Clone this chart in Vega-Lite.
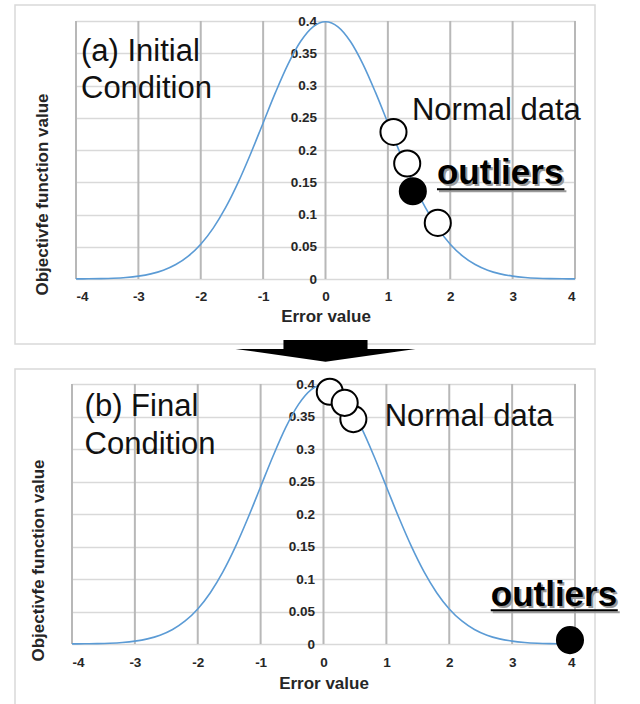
{
  "$schema": "https://vega.github.io/schema/vega-lite/v6.json",
  "background": "white",
  "padding": {"left": 14, "top": 4, "right": 0, "bottom": 0},
  "spacing": 25,
  "bounds": "flush",
  "config": {
    "font": "Liberation Sans",
    "view": {"stroke": "#d9d9d9", "strokeWidth": 1.5},
    "axis": {
      "labelFont": "Liberation Sans", "titleFont": "Liberation Sans",
      "labelFontWeight": "bold", "titleFontWeight": "bold",
      "labelColor": "#262626", "titleColor": "#262626",
      "gridColor": "#d9d9d9", "gridWidth": 1.5,
      "domain": false, "ticks": false, "labelFontSize": 13.5, "titleFontSize": 17
    }
  },
  "datasets": {
    "curve": [
      {"x": -4.0, "y": 0.00013}, {"x": -3.8, "y": 0.00029}, {"x": -3.6, "y": 0.00061}, {"x": -3.4, "y": 0.00123},
      {"x": -3.2, "y": 0.00238}, {"x": -3.0, "y": 0.00443}, {"x": -2.8, "y": 0.00792}, {"x": -2.6, "y": 0.01358},
      {"x": -2.4, "y": 0.02239}, {"x": -2.2, "y": 0.03547}, {"x": -2.0, "y": 0.05399}, {"x": -1.8, "y": 0.07895},
      {"x": -1.6, "y": 0.11092}, {"x": -1.4, "y": 0.14973}, {"x": -1.2, "y": 0.19419}, {"x": -1.0, "y": 0.24197},
      {"x": -0.8, "y": 0.28969}, {"x": -0.6, "y": 0.33322}, {"x": -0.4, "y": 0.36827}, {"x": -0.2, "y": 0.39104},
      {"x": 0.0, "y": 0.39894},
      {"x": 0.2, "y": 0.39104}, {"x": 0.4, "y": 0.36827}, {"x": 0.6, "y": 0.33322}, {"x": 0.8, "y": 0.28969},
      {"x": 1.0, "y": 0.24197}, {"x": 1.2, "y": 0.19419}, {"x": 1.4, "y": 0.14973}, {"x": 1.6, "y": 0.11092},
      {"x": 1.8, "y": 0.07895}, {"x": 2.0, "y": 0.05399}, {"x": 2.2, "y": 0.03547}, {"x": 2.4, "y": 0.02239},
      {"x": 2.6, "y": 0.01358}, {"x": 2.8, "y": 0.00792}, {"x": 3.0, "y": 0.00443}, {"x": 3.2, "y": 0.00238},
      {"x": 3.4, "y": 0.00123}, {"x": 3.6, "y": 0.00061}, {"x": 3.8, "y": 0.00029}, {"x": 4.0, "y": 0.00013}
    ],
    "gridX": [
      {"x": -4, "y": 0}, {"x": -4, "y": 0.4}, {"x": -3, "y": 0}, {"x": -3, "y": 0.4},
      {"x": -2, "y": 0}, {"x": -2, "y": 0.4}, {"x": -1, "y": 0}, {"x": -1, "y": 0.4},
      {"x": 0, "y": 0}, {"x": 0, "y": 0.4}, {"x": 1, "y": 0}, {"x": 1, "y": 0.4},
      {"x": 2, "y": 0}, {"x": 2, "y": 0.4}, {"x": 3, "y": 0}, {"x": 3, "y": 0.4},
      {"x": 4, "y": 0}, {"x": 4, "y": 0.4}
    ],
    "samplesA": [
      {"x": 1.09, "y": 0.228, "kind": "normal"},
      {"x": 1.31, "y": 0.179, "kind": "normal"},
      {"x": 1.80, "y": 0.087, "kind": "normal"},
      {"x": 1.40, "y": 0.136, "kind": "outlier"}
    ],
    "samplesB": [
      {"x": 0.10, "y": 0.388, "kind": "normal"},
      {"x": 0.475, "y": 0.346, "kind": "normal"},
      {"x": 0.337, "y": 0.371, "kind": "normal"},
      {"x": 3.92, "y": 0.006, "kind": "outlier"}
    ],
    "notesA": [
      {"x": -3.92, "y": 0.338, "role": "title", "text": "(a) Initial\nCondition"},
      {"x": 1.386, "y": 0.2465, "role": "normal", "text": "Normal data"},
      {"x": 1.787, "y": 0.147, "role": "outlier", "text": "outliers"}
    ],
    "notesB": [
      {"x": -3.80, "y": 0.351, "role": "title", "text": "(b) Final\nCondition"},
      {"x": 0.973, "y": 0.335, "role": "normal", "text": "Normal data"},
      {"x": 2.66, "y": 0.058, "role": "outlier", "text": "outliers"}
    ],
    "underlineA": [{"x": 1.787, "x2": 3.83, "y": 0.139}],
    "underlineB": [{"x": 2.66, "x2": 4.68, "y": 0.052}],
    "arrow": [{"x": 0, "y": -0.11}]
  },
  "vconcat": [
    {
      "width": 580, "height": 339,
      "layer": [
        {
          "data": {"name": "gridX"},
          "mark": {"type": "line", "color": "#b8b8b8", "strokeWidth": 2},
          "encoding": {
            "x": {"field": "x", "type": "quantitative",
              "scale": {"domain": [-4, 4], "range": [61, 560], "nice": false, "zero": false},
              "axis": {"title": "Error value", "values": [-4, -3, -2, -1, 0, 1, 2, 3, 4],
                "labelExpr": "toString(datum.value)", "offset": -65, "labelPadding": 10, "titlePadding": 6, "grid": false}},
            "y": {"field": "y", "type": "quantitative"},
            "detail": {"field": "x", "type": "nominal"}
          }
        },
        {
          "data": {"name": "curve"},
          "mark": {"type": "line", "color": "#5b9bd5", "strokeWidth": 1.6, "interpolate": "monotone"},
          "encoding": {
            "x": {"field": "x", "type": "quantitative"},
            "y": {"field": "y", "type": "quantitative",
              "scale": {"domain": [0, 0.4], "range": [274, 16], "nice": false, "zero": false},
              "axis": {"title": "Objectivfe function value", "values": [0, 0.05, 0.1, 0.15, 0.2, 0.25, 0.3, 0.35, 0.4],
                "labelExpr": "toString(datum.value)", "offset": -310.5, "labelPadding": 9, "grid": true,
                "titleX": -283.5, "titleY": 189, "titleAngle": -90, "titleAlign": "center", "titleBaseline": "middle"}}
          }
        },
        {
          "data": {"name": "arrow"},
          "mark": {"type": "point", "shape": "M-0.467,-0.111L0.467,-0.111L0.467,-0.011L1,-0.011L0,0.13L-1,-0.011L-0.467,-0.011Z",
            "size": 32400, "filled": true, "color": "black", "opacity": 1, "strokeWidth": 0},
          "encoding": {"x": {"field": "x", "type": "quantitative"}, "y": {"field": "y", "type": "quantitative"}}
        },
        {
          "data": {"name": "samplesA"},
          "mark": {"type": "point", "shape": "circle", "size": 680, "filled": true, "opacity": 1, "stroke": "black", "strokeWidth": 2},
          "encoding": {
            "x": {"field": "x", "type": "quantitative"},
            "y": {"field": "y", "type": "quantitative"},
            "fill": {"field": "kind", "type": "nominal", "scale": {"domain": ["normal", "outlier"], "range": ["white", "black"]}, "legend": null}
          }
        },
        {
          "data": {"name": "notesA"},
          "transform": [{"filter": "datum.role === 'title'"}],
          "mark": {"type": "text", "align": "left", "baseline": "alphabetic", "fontSize": 31, "lineBreak": "\n", "lineHeight": 37, "color": "#111"},
          "encoding": {"x": {"field": "x", "type": "quantitative"}, "y": {"field": "y", "type": "quantitative"}, "text": {"field": "text"}}
        },
        {
          "data": {"name": "notesA"},
          "transform": [{"filter": "datum.role === 'normal'"}],
          "mark": {"type": "text", "align": "left", "baseline": "alphabetic", "fontSize": 31, "color": "#111"},
          "encoding": {"x": {"field": "x", "type": "quantitative"}, "y": {"field": "y", "type": "quantitative"}, "text": {"field": "text"}}
        },
        {
          "data": {"name": "underlineA"},
          "mark": {"type": "rule", "color": "#9a9a9a", "strokeWidth": 2, "xOffset": 2, "yOffset": 2, "x2Offset": 2, "y2Offset": 2},
          "encoding": {"x": {"field": "x", "type": "quantitative"}, "x2": {"field": "x2"}, "y": {"field": "y", "type": "quantitative"}}
        },
        {
          "data": {"name": "notesA"},
          "transform": [{"filter": "datum.role === 'outlier'"}],
          "mark": {"type": "text", "align": "left", "baseline": "alphabetic", "fontSize": 35, "fontWeight": "bold", "color": "#9a9a9a", "dx": 2, "dy": 2},
          "encoding": {"x": {"field": "x", "type": "quantitative"}, "y": {"field": "y", "type": "quantitative"}, "text": {"field": "text"}}
        },
        {
          "data": {"name": "underlineA"},
          "mark": {"type": "rule", "color": "black", "strokeWidth": 2},
          "encoding": {"x": {"field": "x", "type": "quantitative"}, "x2": {"field": "x2"}, "y": {"field": "y", "type": "quantitative"}}
        },
        {
          "data": {"name": "notesA"},
          "transform": [{"filter": "datum.role === 'outlier'"}],
          "mark": {"type": "text", "align": "left", "baseline": "alphabetic", "fontSize": 35, "fontWeight": "bold", "color": "black"},
          "encoding": {"x": {"field": "x", "type": "quantitative"}, "y": {"field": "y", "type": "quantitative"}, "text": {"field": "text"}}
        }
      ]
    },
    {
      "width": 580, "height": 336,
      "layer": [
        {
          "data": {"name": "gridX"},
          "mark": {"type": "line", "color": "#b8b8b8", "strokeWidth": 2},
          "encoding": {
            "x": {"field": "x", "type": "quantitative",
              "scale": {"domain": [-4, 4], "range": [57, 560], "nice": false, "zero": false},
              "axis": {"title": "Error value", "values": [-4, -3, -2, -1, 0, 1, 2, 3, 4],
                "labelExpr": "toString(datum.value)", "offset": -61, "labelPadding": 11, "titlePadding": 7, "grid": false}},
            "y": {"field": "y", "type": "quantitative"},
            "detail": {"field": "x", "type": "nominal"}
          }
        },
        {
          "data": {"name": "curve"},
          "mark": {"type": "line", "color": "#5b9bd5", "strokeWidth": 1.6, "interpolate": "monotone"},
          "encoding": {
            "x": {"field": "x", "type": "quantitative"},
            "y": {"field": "y", "type": "quantitative",
              "scale": {"domain": [0, 0.4], "range": [275, 15], "nice": false, "zero": false},
              "axis": {"title": "Objectivfe function value", "values": [0, 0.05, 0.1, 0.15, 0.2, 0.25, 0.3, 0.35, 0.4],
                "labelExpr": "toString(datum.value)", "offset": -308.5, "labelPadding": 9, "grid": true,
                "titleX": -285.5, "titleY": 191, "titleAngle": -90, "titleAlign": "center", "titleBaseline": "middle"}}
          }
        },
        {
          "data": {"name": "samplesB"},
          "mark": {"type": "point", "shape": "circle", "size": 680, "filled": true, "opacity": 1, "stroke": "black", "strokeWidth": 2},
          "encoding": {
            "x": {"field": "x", "type": "quantitative"},
            "y": {"field": "y", "type": "quantitative"},
            "fill": {"field": "kind", "type": "nominal", "scale": {"domain": ["normal", "outlier"], "range": ["white", "black"]}, "legend": null}
          }
        },
        {
          "data": {"name": "notesB"},
          "transform": [{"filter": "datum.role === 'title'"}],
          "mark": {"type": "text", "align": "left", "baseline": "alphabetic", "fontSize": 31, "lineBreak": "\n", "lineHeight": 38, "color": "#111"},
          "encoding": {"x": {"field": "x", "type": "quantitative"}, "y": {"field": "y", "type": "quantitative"}, "text": {"field": "text"}}
        },
        {
          "data": {"name": "notesB"},
          "transform": [{"filter": "datum.role === 'normal'"}],
          "mark": {"type": "text", "align": "left", "baseline": "alphabetic", "fontSize": 31, "color": "#111"},
          "encoding": {"x": {"field": "x", "type": "quantitative"}, "y": {"field": "y", "type": "quantitative"}, "text": {"field": "text"}}
        },
        {
          "data": {"name": "underlineB"},
          "mark": {"type": "rule", "color": "#9a9a9a", "strokeWidth": 2, "xOffset": 2, "yOffset": 2, "x2Offset": 2, "y2Offset": 2},
          "encoding": {"x": {"field": "x", "type": "quantitative"}, "x2": {"field": "x2"}, "y": {"field": "y", "type": "quantitative"}}
        },
        {
          "data": {"name": "notesB"},
          "transform": [{"filter": "datum.role === 'outlier'"}],
          "mark": {"type": "text", "align": "left", "baseline": "alphabetic", "fontSize": 35, "fontWeight": "bold", "color": "#9a9a9a", "dx": 2, "dy": 2},
          "encoding": {"x": {"field": "x", "type": "quantitative"}, "y": {"field": "y", "type": "quantitative"}, "text": {"field": "text"}}
        },
        {
          "data": {"name": "underlineB"},
          "mark": {"type": "rule", "color": "black", "strokeWidth": 2},
          "encoding": {"x": {"field": "x", "type": "quantitative"}, "x2": {"field": "x2"}, "y": {"field": "y", "type": "quantitative"}}
        },
        {
          "data": {"name": "notesB"},
          "transform": [{"filter": "datum.role === 'outlier'"}],
          "mark": {"type": "text", "align": "left", "baseline": "alphabetic", "fontSize": 35, "fontWeight": "bold", "color": "black"},
          "encoding": {"x": {"field": "x", "type": "quantitative"}, "y": {"field": "y", "type": "quantitative"}, "text": {"field": "text"}}
        }
      ]
    }
  ]
}
